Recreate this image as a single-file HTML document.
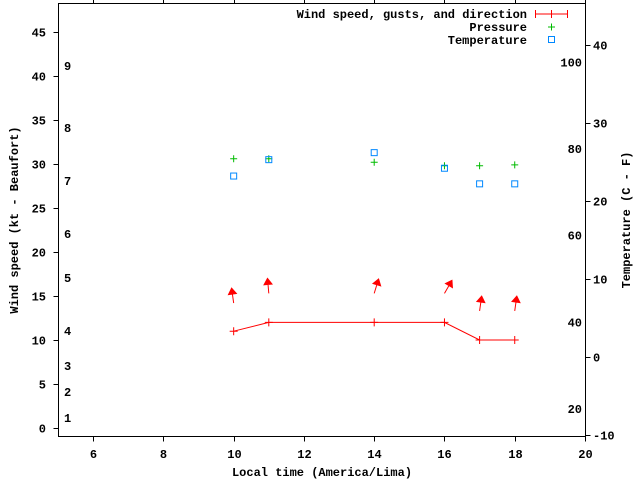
<!DOCTYPE html>
<html><head><meta charset="utf-8"><style>
body{margin:0;background:#fff}
svg{display:block}
text{font-family:"Liberation Mono","DejaVu Sans Mono",monospace;font-size:12px;font-weight:bold;fill:#000}
</style></head><body>
<svg id="chart" width="640" height="480" viewBox="0 0 640 480" xmlns="http://www.w3.org/2000/svg">
<g id="axes"></g>
<g id="marks"></g>
<text x="322" y="476" text-anchor="middle">Local time (America/Lima)</text>
<text transform="translate(18,220) rotate(-90)" text-anchor="middle">Wind speed (kt - Beaufort)</text>
<text transform="translate(630,220) rotate(-90)" text-anchor="middle">Temperature (C - F)</text>
<g>
<text x="527" y="18" text-anchor="end">Wind speed, gusts, and direction</text>
<path d="M535.5 14h32M535.5 10v8M551.5 10v8M567.5 10v8" stroke="#f00" fill="none"/>
<text x="527" y="31" text-anchor="end">Pressure</text>
<path d="M548 27h7M551.5 23.5v7" stroke="#0b0" fill="none"/>
<text x="527" y="44" text-anchor="end">Temperature</text>
<rect x="548.5" y="36.5" width="6" height="6" stroke="#08f" fill="none"/>
</g>
</svg>
<script>
const hours=[10,11,14,16,17,18];
const windKt=[11,12,12,12,10,10];
const gustKt=[14.2,15.3,15.3,15.3,13.3,13.3];
const windDir=[-8,-5,17,30,8,8];
const pressure=[30.6,30.6,30.2,29.8,29.8,29.9];
const tempC=[23.2,25.3,26.2,24.2,22.2,22.2];
const xTicks=[6,8,10,12,14,16,18,20];
const yTicks=[0,5,10,15,20,25,30,35,40,45];
const cTicks=[-10,0,10,20,30,40];
const fTicks=[20,40,60,80,100];
const beaufort=[[1,418],[2,392],[3,366],[4,331],[5,278],[6,234],[7,181],[8,128],[9,66]];

const L=58,R=585,T=3,B=436;
const X=v=>L+(v-5)*(R-L)/15;
const Y=v=>428-v*8.8;
const YC=c=>357-c*7.8;
const YF=f=>YC((f-32)*5/9);
const NS="http://www.w3.org/2000/svg";
function mk(parent,tag,attrs){const e=document.createElementNS(NS,tag);for(const k in attrs)e.setAttribute(k,attrs[k]);document.getElementById(parent).appendChild(e);return e;}

let e=mk('axes','rect',{x:L+0.5,y:T+0.5,width:R-L,height:B-T,fill:'none',stroke:'#000'});


xTicks.forEach(v=>{const x=Math.round(X(v))+0.5;
 let t=mk('axes','path',{d:`M${x} ${B+0.5}v5M${x} ${T+0.5}v-5`,stroke:'#000'});
 
 
 let l=mk('axes','text',{x:x,y:458,'text-anchor':'middle'});l.textContent=v;
 
 });
yTicks.forEach(v=>{const y=Math.round(Y(v))+0.5;
 let t=mk('axes','path',{d:`M${L+0.5} ${y}h-5`,stroke:'#000'});
 
 
 let l=mk('axes','text',{x:46,y:y+4,'text-anchor':'end'});l.textContent=v;
 
 });
cTicks.forEach(v=>{const y=Math.round(YC(v))+0.5;
 let t=mk('axes','path',{d:`M${R+0.5} ${y}h5`,stroke:'#000'});
 
 
 let l=mk('axes','text',{x:593,y:y+4,'text-anchor':'start'});l.textContent=v;
 
 });
fTicks.forEach(v=>{const y=YF(v);
 let l=mk('axes','text',{x:582,y:y+4,'text-anchor':'end'});l.textContent=v;
 
 });
beaufort.forEach(b=>{let l=mk('axes','text',{x:64,y:b[1]+4});l.textContent=b[0];
 
 });

// wind line
let pts=hours.map((h,i)=>X(h)+','+Y(windKt[i])).join(' ');
let ln=mk('marks','polyline',{points:pts,fill:'none',stroke:'#f00'});


hours.forEach((h,i)=>{const x=X(h),y=Y(windKt[i]);
 let p=mk('marks','path',{d:`M${x-4} ${y}h8M${x} ${y-4}v8`,stroke:'#f00'});
 
 
 // gust arrow
 const gx=x,gy=Y(gustKt[i]),a=windDir[i]*Math.PI/180,len=15;
 const hx=gx+Math.sin(a)*len,hy=gy-Math.cos(a)*len;
 const bx=gx+Math.sin(a)*(len-6),by=gy-Math.cos(a)*(len-6);
 const px=Math.cos(a)*4,py=Math.sin(a)*4;
 let g=mk('marks','path',{d:`M${gx} ${gy}L${hx} ${hy}M${hx} ${hy}L${bx-px} ${by-py}L${bx+px} ${by+py}Z`,stroke:'#f00',fill:'#f00'});
 
 
 const py2=Y(pressure[i]);
 let pp=mk('marks','path',{d:`M${x-3.5} ${py2}h7M${x} ${py2-3.5}v7`,stroke:'#0b0'});
 
 
 const ty=YC(tempC[i]);
 let tp=mk('marks','rect',{x:x-3,y:ty-3,width:6,height:6,fill:'none',stroke:'#08f'});
 
 
});
</script>
</body></html>
